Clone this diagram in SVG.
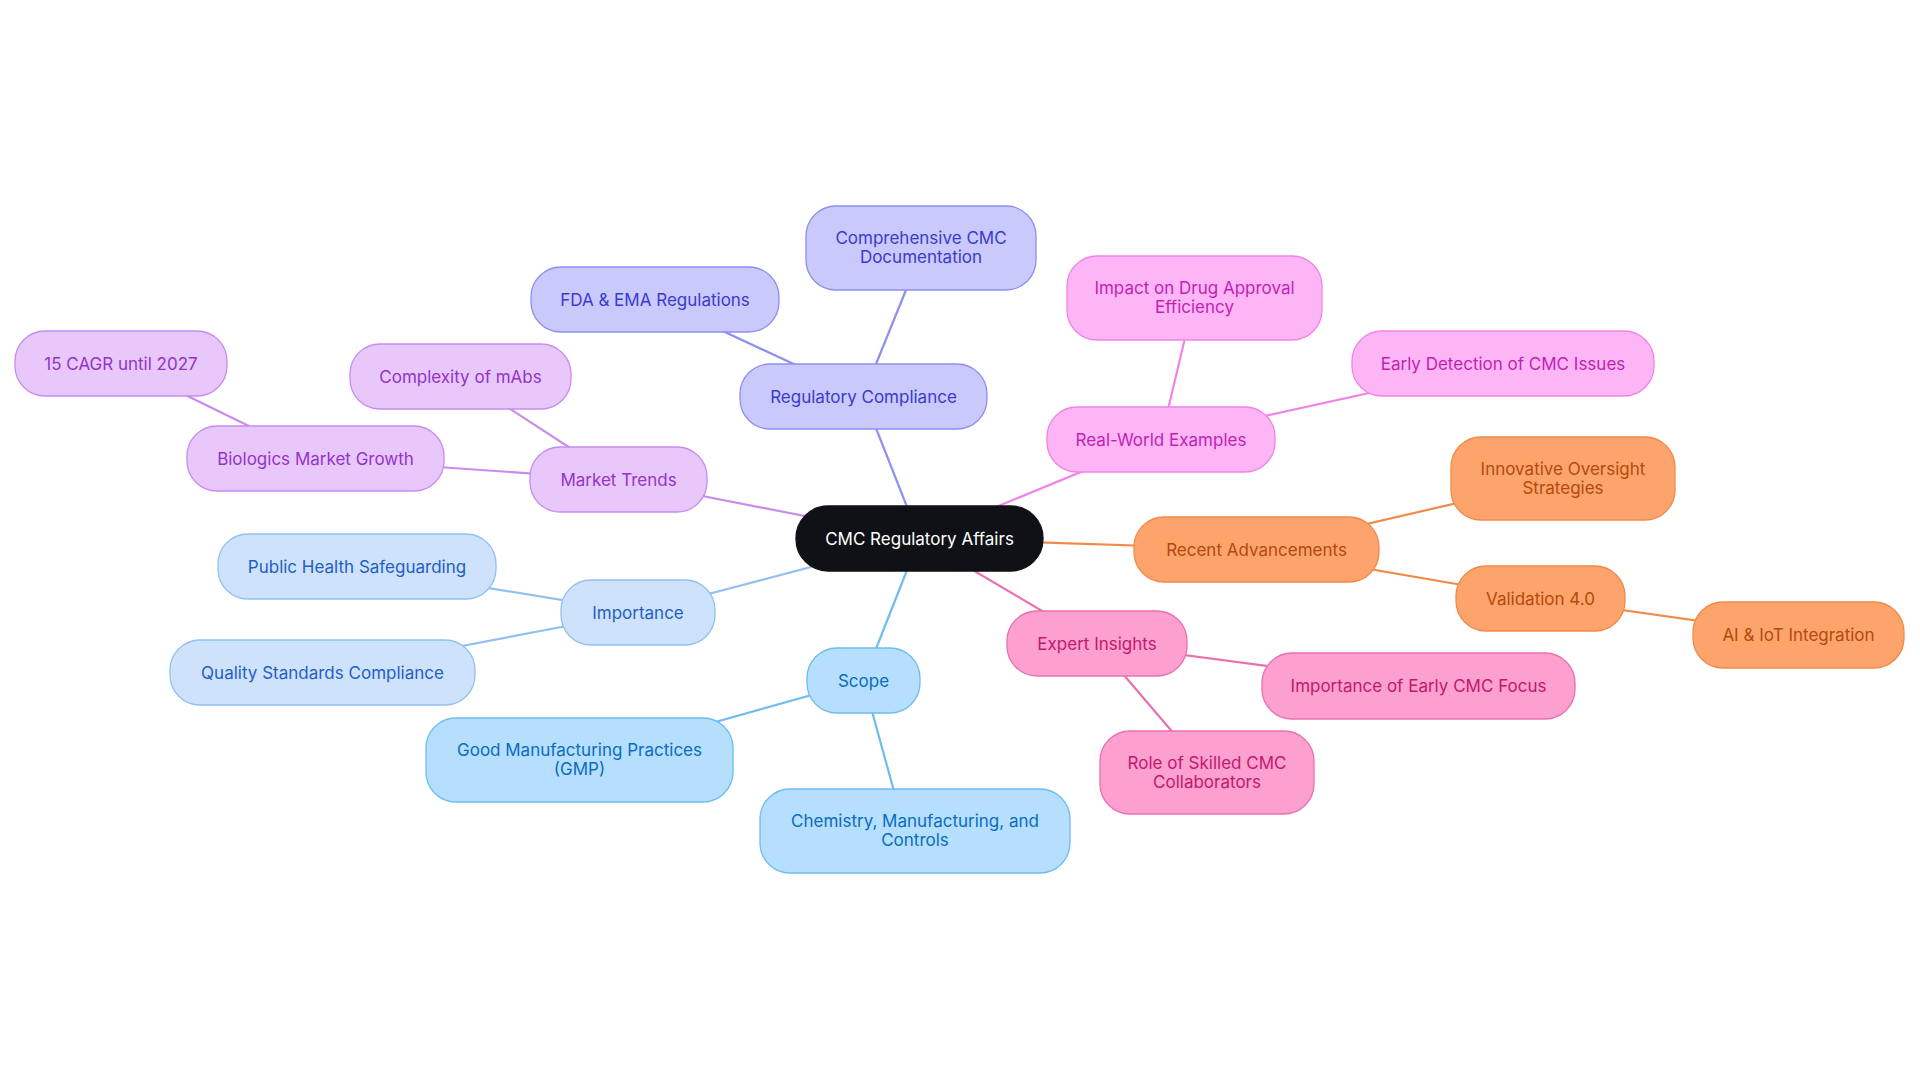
<svg xmlns="http://www.w3.org/2000/svg" width="1920" height="1083" viewBox="0 0 1920 1083">
<style>
text{font-family:Inter,"Liberation Sans",sans-serif;font-size:17px;text-anchor:middle;dominant-baseline:central}
line{stroke-width:2.2}
.v rect{fill:#c9c9fb;stroke:#8f8ff0}.v text{fill:#3b3bcc}
.p rect{fill:#e8c7fb;stroke:#c88cf0}.p text{fill:#9333c9}
.i rect{fill:#cfe2fb;stroke:#93c0f0}.i text{fill:#1f5fc4}
.s rect{fill:#b5dffc;stroke:#6fbcf0}.s text{fill:#0a6cc2}
.m rect{fill:#fdb5f5;stroke:#f084e6}.m text{fill:#c21fb4}
.o rect{fill:#fda46c;stroke:#f08a4a}.o text{fill:#b34a0c}
.h rect{fill:#fba0cf;stroke:#ec6fb0}.h text{fill:#c2186e}
rect{stroke-width:1.3}
</style>
<rect width="1920" height="1083" fill="#fff"/>
<g id="connectors">
<g stroke="#8f8ff0"><line x1="919.5" y1="538.5" x2="863.5" y2="396.5"/><line x1="876" y1="364" x2="906" y2="290"/><line x1="863.5" y1="396.5" x2="655" y2="299.5"/></g>
<g stroke="#c88cf0"><line x1="919.5" y1="538.5" x2="618.5" y2="479.5"/><line x1="618.5" y1="479.5" x2="460.5" y2="376.5"/><line x1="618.5" y1="479.5" x2="315.5" y2="458.5"/><line x1="315.5" y1="458.5" x2="121" y2="363.5"/></g>
<g stroke="#93c0f0"><line x1="919.5" y1="538.5" x2="638" y2="612.5"/><line x1="638" y1="612.5" x2="357" y2="566.5"/><line x1="638" y1="612.5" x2="322.5" y2="672.5"/></g>
<g stroke="#6fbcf0"><line x1="919.5" y1="538.5" x2="863.5" y2="680.5"/><line x1="863.5" y1="680.5" x2="579.5" y2="760"/><line x1="863.5" y1="680.5" x2="905" y2="831"/></g>
<g stroke="#f084e6"><line x1="919.5" y1="538.5" x2="1161" y2="439"/><line x1="1161" y1="439" x2="1194.5" y2="298"/><line x1="1161" y1="439" x2="1503" y2="363.5"/></g>
<g stroke="#f08a4a"><line x1="919.5" y1="538.5" x2="1256.5" y2="549.5"/><line x1="1256.5" y1="549.5" x2="1563" y2="478.5"/><line x1="1256.5" y1="549.5" x2="1540.5" y2="598.5"/><line x1="1540.5" y1="598.5" x2="1799" y2="635"/></g>
<g stroke="#ec6fb0"><line x1="919.5" y1="538.5" x2="1097" y2="643.5"/><line x1="1097" y1="643.5" x2="1418.5" y2="686"/><line x1="1097" y1="643.5" x2="1207" y2="772.5"/></g>
</g>
<g id="center"><rect x="796" y="506" width="247" height="65" rx="32" fill="#0f1117" stroke="#0f1117"/><text x="919.5" y="538.5" fill="#fff">CMC Regulatory Affairs</text></g>
<g id="rc" class="v"><rect x="740" y="364" width="247" height="65" rx="30"/><text x="863.5" y="396.5">Regulatory Compliance</text></g>
<g id="ccd" class="v"><rect x="806" y="206" width="230" height="84" rx="30"/><text x="921" y="238">Comprehensive CMC</text><text x="921" y="257">Documentation</text></g>
<g id="fda" class="v"><rect x="531" y="267" width="248" height="65" rx="30"/><text x="655" y="299.5">FDA &amp; EMA Regulations</text></g>
<g id="mt" class="p"><rect x="530" y="447" width="177" height="65" rx="30"/><text x="618.5" y="479.5">Market Trends</text></g>
<g id="mabs" class="p"><rect x="350" y="344" width="221" height="65" rx="30"/><text x="460.5" y="376.5">Complexity of mAbs</text></g>
<g id="bmg" class="p"><rect x="187" y="426" width="257" height="65" rx="30"/><text x="315.5" y="458.5">Biologics Market Growth</text></g>
<g id="cagr" class="p"><rect x="15" y="331" width="212" height="65" rx="30"/><text x="121" y="363.5">15 CAGR until 2027</text></g>
<g id="imp" class="i"><rect x="561" y="580" width="154" height="65" rx="30"/><text x="638" y="612.5">Importance</text></g>
<g id="ph" class="i"><rect x="218" y="534" width="278" height="65" rx="30"/><text x="357" y="566.5">Public Health Safeguarding</text></g>
<g id="qs" class="i"><rect x="170" y="640" width="305" height="65" rx="30"/><text x="322.5" y="672.5">Quality Standards Compliance</text></g>
<g id="scope" class="s"><rect x="807" y="648" width="113" height="65" rx="30"/><text x="863.5" y="680.5">Scope</text></g>
<g id="gmp" class="s"><rect x="426" y="718" width="307" height="84" rx="30"/><text x="579.5" y="750">Good Manufacturing Practices</text><text x="579.5" y="769">(GMP)</text></g>
<g id="chem" class="s"><rect x="760" y="789" width="310" height="84" rx="30"/><text x="915" y="821">Chemistry, Manufacturing, and</text><text x="915" y="840">Controls</text></g>
<g id="rw" class="m"><rect x="1047" y="407" width="228" height="65" rx="30"/><text x="1161" y="439.5">Real-World Examples</text></g>
<g id="impact" class="m"><rect x="1067" y="256" width="255" height="84" rx="30"/><text x="1194.5" y="288">Impact on Drug Approval</text><text x="1194.5" y="307">Efficiency</text></g>
<g id="ed" class="m"><rect x="1352" y="331" width="302" height="65" rx="30"/><text x="1503" y="363.5">Early Detection of CMC Issues</text></g>
<g id="ra" class="o"><rect x="1134" y="517" width="245" height="65" rx="30"/><text x="1256.5" y="549.5">Recent Advancements</text></g>
<g id="inn" class="o"><rect x="1451" y="437" width="224" height="83" rx="30"/><text x="1563" y="469">Innovative Oversight</text><text x="1563" y="488">Strategies</text></g>
<g id="val" class="o"><rect x="1456" y="566" width="169" height="65" rx="30"/><text x="1540.5" y="598.5">Validation 4.0</text></g>
<g id="ai" class="o"><rect x="1693" y="602" width="211" height="66" rx="30"/><text x="1798.5" y="635">AI &amp; IoT Integration</text></g>
<g id="ei" class="h"><rect x="1007" y="611" width="180" height="65" rx="30"/><text x="1097" y="643.5">Expert Insights</text></g>
<g id="ie" class="h"><rect x="1262" y="653" width="313" height="66" rx="30"/><text x="1418.5" y="686">Importance of Early CMC Focus</text></g>
<g id="role" class="h"><rect x="1100" y="731" width="214" height="83" rx="30"/><text x="1207" y="763">Role of Skilled CMC</text><text x="1207" y="782">Collaborators</text></g>
</svg>
